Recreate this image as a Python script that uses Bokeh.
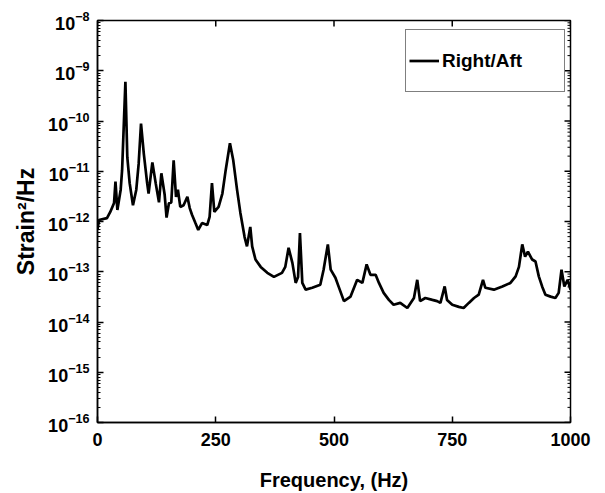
import math
from bokeh.plotting import figure
from bokeh.models import Range1d, FixedTicker, Legend, LegendItem, LogTickFormatter
from bokeh.embed import file_html
from bokeh.resources import INLINE

# ---- data ----
freq = [0, 3, 20, 27, 35, 38, 42, 49, 52, 59, 63, 68, 75, 82, 87, 92, 98, 105, 108, 116,
        123, 130, 135, 142, 146, 151, 156, 161, 166, 170, 175, 182, 190, 195, 200, 207,
        213, 221, 232, 237, 242, 247, 256, 264, 271, 280, 287, 295, 302, 311, 316, 323,
        327, 334, 345, 359, 373, 390, 397, 404, 412, 419, 424, 428, 433, 440, 454, 471,
        478, 487, 493, 503, 510, 521, 535, 549, 560, 569, 577, 588, 595, 605, 616, 626,
        640, 655, 669, 676, 682, 693, 708, 718, 725, 734, 739, 750, 764, 774, 785, 796,
        806, 815, 820, 838, 856, 873, 884, 891, 898, 904, 910, 919, 926, 933, 940, 947,
        958, 968, 975, 981, 987, 994, 1000]
psd = [6.8e-13, 1.07e-12, 1.17e-12, 1.55e-12, 2.34e-12, 6.2e-12, 1.7e-12, 4.3e-12, 1.05e-11,
       6.0e-10, 1.9e-11, 5.8e-12, 2.1e-12, 4.3e-12, 1.4e-11, 8.9e-11, 2.2e-11, 5.8e-12,
       3.6e-12, 1.5e-11, 5.8e-12, 2.4e-12, 9.1e-12, 3.4e-12, 1.2e-12, 2.3e-12, 2.4e-12,
       1.65e-11, 3.1e-12, 4.3e-12, 1.95e-12, 2.1e-12, 3.1e-12, 1.85e-12, 1.35e-12, 9.3e-13,
       6.8e-13, 9.3e-13, 8.5e-13, 1.23e-12, 5.8e-12, 1.55e-12, 1.95e-12, 3.6e-12, 1.05e-11,
       3.6e-11, 1.65e-11, 4.3e-12, 1.5e-12, 4.9e-13, 3.2e-13, 7.8e-13, 3.2e-13, 1.75e-13,
       1.25e-13, 9.5e-14, 7.9e-14, 9.5e-14, 1.25e-13, 3.0e-13, 1.5e-13, 6.0e-14, 7.9e-14,
       5.9e-13, 6.0e-14, 4.4e-14, 4.8e-14, 5.5e-14, 1.1e-13, 3.5e-13, 1.1e-13, 7.6e-14,
       5.0e-14, 2.6e-14, 3.2e-14, 6.9e-14, 6.0e-14, 1.4e-13, 8.7e-14, 8.7e-14, 6.0e-14,
       3.8e-14, 2.75e-14, 2.2e-14, 2.4e-14, 1.9e-14, 3.0e-14, 6.9e-14, 2.6e-14, 3.0e-14,
       2.75e-14, 2.6e-14, 2.4e-14, 5.1e-14, 2.75e-14, 2.2e-14, 2.0e-14, 1.9e-14, 2.4e-14,
       3.0e-14, 3.5e-14, 6.9e-14, 4.8e-14, 4.4e-14, 5.1e-14, 6.0e-14, 8.1e-14, 1.25e-13,
       3.5e-13, 2.0e-13, 2.5e-13, 1.75e-13, 1.6e-13, 8.1e-14, 5.1e-14, 3.5e-14, 3.2e-14,
       3.0e-14, 3.8e-14, 1.1e-13, 5.1e-14, 6.9e-14, 4.4e-14]
x_ticks = [0, 250, 500, 750, 1000]
y_major = [1e-16, 1e-15, 1e-14, 1e-13, 1e-12, 1e-11, 1e-10, 1e-9, 1e-8]
series_name = "Right/Aft"
x_label = "Frequency, (Hz)"
y_label = "Strain\u00b2/Hz"

FONT = "Liberation Sans"
y_minor = [k * d for d in y_major[:-1] for k in range(2, 10)]
X0, X1 = 0, 1000
Y0, Y1 = 1e-16, 1e-8

p = figure(width=605, height=493, output_backend="svg", toolbar_location=None,
           y_axis_type="log", x_range=Range1d(X0, X1), y_range=Range1d(Y0, Y1),
           min_border_left=97, min_border_right=35, min_border_top=20, min_border_bottom=70)
p.xgrid.visible = False
p.ygrid.visible = False
p.outline_line_color = "black"
p.outline_line_width = 1.5
p.background_fill_color = "white"
p.border_fill_color = "white"

line = p.line(freq, psd, line_color="black", line_width=2.7)

# ticks on the right and top edges of the box (half of each dash is clipped by the frame)
p.scatter([X1] * len(y_major), y_major, marker="dash", size=12, line_color="black", line_width=1.5)
p.scatter([X1] * len(y_minor), y_minor, marker="dash", size=6, line_color="black", line_width=1)
p.scatter(x_ticks, [Y1] * len(x_ticks), marker="dash", angle=math.pi / 2, size=12,
          line_color="black", line_width=1.5)

xt = FixedTicker(ticks=x_ticks)
yt = FixedTicker(ticks=y_major, minor_ticks=y_minor)

for ax in p.xaxis:
    ax.ticker = xt
    ax.axis_label = x_label
    ax.axis_label_text_font = FONT
    ax.axis_label_text_font_style = "bold"
    ax.axis_label_text_font_size = "20px"
    ax.axis_label_text_color = "black"
    ax.axis_label_standoff = 20
    ax.major_label_text_font = FONT
    ax.major_label_text_font_style = "bold"
    ax.major_label_text_font_size = "18px"
    ax.major_label_text_color = "black"
    ax.major_label_standoff = 10
    ax.major_tick_in = 6
    ax.major_tick_out = 0
    ax.minor_tick_line_color = None
    ax.axis_line_width = 1.5
    ax.major_tick_line_width = 1.5

for ax in p.yaxis:
    ax.ticker = yt
    ax.formatter = LogTickFormatter()
    ax.axis_label = y_label
    ax.axis_label_text_font = FONT
    ax.axis_label_text_font_style = "bold"
    ax.axis_label_text_font_size = "23px"
    ax.axis_label_text_color = "black"
    ax.axis_label_standoff = 6
    ax.major_label_text_font = FONT
    ax.major_label_text_font_style = "bold"
    ax.major_label_text_font_size = "18px"
    ax.major_label_text_color = "black"
    ax.major_label_standoff = 8
    ax.major_tick_in = 6
    ax.major_tick_out = 0
    ax.minor_tick_in = 3
    ax.minor_tick_out = 0
    ax.axis_line_width = 1.5
    ax.major_tick_line_width = 1.5

legend = Legend(items=[LegendItem(label=series_name, renderers=[line])],
                location=(308, 330), margin=0, padding=3, spacing=0,
                glyph_width=30, glyph_height=55, label_height=55, label_width=119,
                label_standoff=3, label_text_font=FONT, label_text_font_style="bold",
                label_text_font_size="19px", label_text_color="black",
                border_line_color="black", border_line_width=1.5,
                background_fill_color="white", background_fill_alpha=1)
p.add_layout(legend)

open("out.html", "w").write(file_html(p, INLINE))
